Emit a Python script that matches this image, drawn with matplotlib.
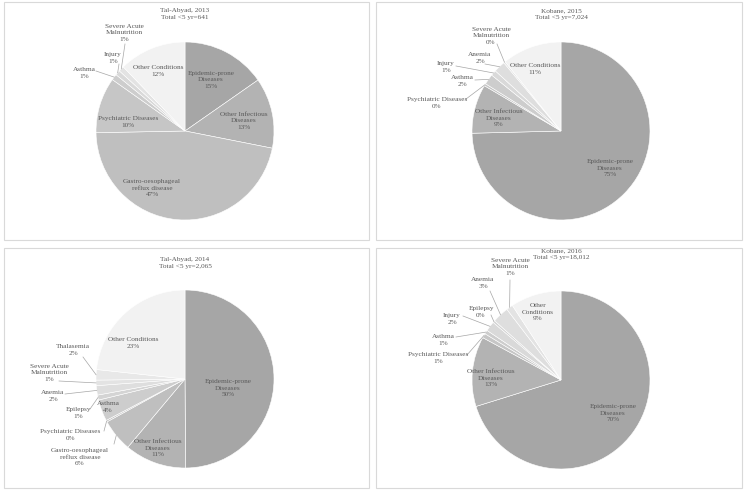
import numpy as np
import matplotlib.pyplot as plt
from matplotlib.patches import Rectangle

W, H = 746, 490

# ---- data (percent of consultations, children <5) ----
cats_2013 = ['Epidemic-prone\nDiseases', 'Other Infectious\nDiseases',
             'Gastro-oesophageal\nreflux disease', 'Psychiatric Diseases',
             'Asthma', 'Injury', 'Severe Acute\nMalnutrition', 'Other Conditions']
vals_2013 = [15.3, 12.8, 46.6, 10.1, 1.1, 0.9, 1.0, 12.2]

cats_2015 = ['Epidemic-prone\nDiseases', 'Other Infectious\nDiseases',
             'Psychiatric Diseases', 'Asthma', 'Injury', 'Anemia',
             'Severe Acute\nMalnutrition', 'Other Conditions']
vals_2015 = [74.6, 8.9, 0.4, 1.9, 1.0, 2.1, 0.3, 10.8]

cats_2014 = ['Epidemic-prone\nDiseases', 'Other Infectious\nDiseases',
             'Gastro-oesophageal\nreflux disease', 'Psychiatric Diseases',
             'Asthma', 'Epilepsy', 'Anemia', 'Severe Acute\nMalnutrition',
             'Thalasemia', 'Other Conditions']
vals_2014 = [49.9, 11.2, 5.9, 0.3, 3.9, 0.9, 1.7, 1.0, 1.9, 23.3]

cats_2016 = ['Epidemic-prone\nDiseases', 'Other Infectious\nDiseases',
             'Psychiatric Diseases', 'Asthma', 'Injury', 'Epilepsy', 'Anemia',
             'Severe Acute\nMalnutrition', 'Other\nConditions']
vals_2016 = [70.2, 12.7, 0.8, 0.7, 1.8, 0.4, 3.0, 1.2, 9.2]

titles = ['Tal-Abyad, 2013\nTotal <5 yr=641', 'Kobane, 2015\nTotal <5 yr=7,024',
          'Tal-Abyad, 2014\nTotal <5 yr=2,065', 'Kobane, 2016\nTotal <5 yr=18,012']

# grey shade per category
shade = {'Epidemic-prone': '#a6a6a6', 'Other Infectious': '#b3b3b3',
         'Gastro-oesophageal': '#bfbfbf', 'Psychiatric': '#c6c6c6',
         'Asthma': '#cdcdcd', 'Epilepsy': '#d4d4d4', 'Injury': '#d9d9d9',
         'Anemia': '#dedede', 'Severe Acute': '#e3e3e3', 'Thalasemia': '#e8e8e8',
         'Other': '#f2f2f2'}

def colour(c):
    for k, v in shade.items():
        if c.startswith(k):
            return v
    return '#cccccc'

# ---- layout (image pixels, y down) ----
# panel box, pie centre, title pos, label positions (text centre, leader start or None)
panels = [
    dict(cats=cats_2013, vals=vals_2013, box=(4, 2, 365, 238), c=(185, 131),
         title=(185, 14),
         lab=[((211, 80), None), ((244, 121), None), ((152, 188), None),
              ((128, 122), None), ((84, 73), (96, 71)), ((113, 58), (119, 64)),
              ((124, 33), (125, 44)), ((158, 71), None)]),
    dict(cats=cats_2015, vals=vals_2015, box=(376, 2, 366, 238), c=(561, 131),
         title=(561, 14),
         lab=[((610, 168), None), ((499, 118), None), ((437, 103), (466, 99)),
              ((462, 81), (475, 80)), ((446, 67), (456, 66)),
              ((480, 58), (485, 64)), ((491, 36), (497, 44)), ((535, 69), None)]),
    dict(cats=cats_2014, vals=vals_2014, box=(4, 248, 365, 240), c=(185, 379),
         title=(185, 263),
         lab=[((228, 388), None), ((158, 448), None), ((80, 457), (114, 444)),
              ((70, 435), (104, 431)), ((108, 407), None), ((78, 413), (90, 409)),
              ((53, 396), (65, 394)), ((49, 373), (59, 381)), ((73, 350), (83, 357)),
              ((133, 343), None)]),
    dict(cats=cats_2016, vals=vals_2016, box=(376, 248, 366, 240), c=(561, 380),
         title=(561, 254),
         lab=[((613, 413), None), ((491, 378), None), ((438, 358), (467, 355)),
              ((443, 340), (456, 337)), ((452, 319), (463, 316)),
              ((481, 312), (491, 315)), ((483, 283), (490, 291)),
              ((510, 267), (510, 280)), ((538, 312), None)]),
]
R = 89
TXT = '#595959'
plt.rcParams['font.family'] = ['Liberation Serif', 'DejaVu Serif']

fig = plt.figure(figsize=(W / 100, H / 100), dpi=100)
ax = fig.add_axes([0, 0, 1, 1])

for i, p in enumerate(panels):
    bx, by, bw, bh = p['box']
    ax.add_patch(Rectangle((bx, H - by - bh), bw, bh, fill=False,
                           edgecolor='#d9d9d9', linewidth=0.8))
    cx, cy = p['c'][0], H - p['c'][1]
    wedges, _ = ax.pie(p['vals'], startangle=90, counterclock=False,
                       center=(cx, cy), radius=R,
                       colors=[colour(c) for c in p['cats']],
                       wedgeprops=dict(edgecolor='white', linewidth=0.4))
    ax.text(p['title'][0], H - p['title'][1], titles[i],
            ha='center', va='center', fontsize=5.2, color=TXT, linespacing=1.4)
    for w, cat, v, ((tx, ty), lead) in zip(wedges, p['cats'], p['vals'], p['lab']):
        ax.text(tx, H - ty, f'{cat}\n{v:.0f}%', ha='center', va='center',
                fontsize=5.2, color=TXT, linespacing=1.45)
        if lead is not None:
            mid = np.deg2rad((w.theta1 + w.theta2) / 2)
            ex, ey = cx + R * np.cos(mid), cy + R * np.sin(mid)
            ax.plot([lead[0], ex], [H - lead[1], ey], color='#a6a6a6', linewidth=0.5)

ax.set_xlim(0, W)
ax.set_ylim(0, H)
ax.set_aspect('auto')
ax.axis('off')
fig.savefig('out.png', dpi=100, facecolor='white')
